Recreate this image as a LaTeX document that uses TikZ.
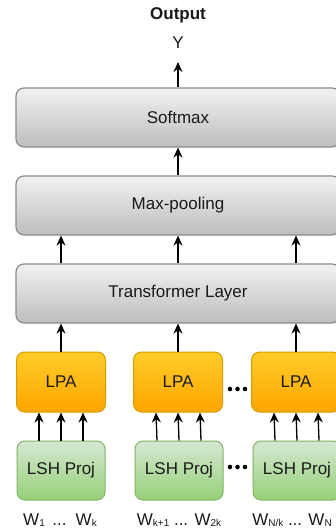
\documentclass[tikz,border=0pt]{standalone}
\usepackage{fontspec}
\setmainfont{Liberation Sans}
\usetikzlibrary{arrows.meta}
\definecolor{grtop}{HTML}{F2F2F2}
\definecolor{grbot}{HTML}{BDBDBD}
\definecolor{grline}{HTML}{8C8C8C}
\definecolor{ortop}{HTML}{FFCD28}
\definecolor{orbot}{HTML}{FFA500}
\definecolor{orline}{HTML}{D79B00}
\definecolor{gntop}{HTML}{D5E8D4}
\definecolor{gnbot}{HTML}{97D077}
\definecolor{gnline}{HTML}{82B366}
\definecolor{txt}{HTML}{1A1A1A}
\newcommand\wsub[1]{\raisebox{-0.5pt}{\fontsize{10}{10}\selectfont #1}}
\tikzset{
  lbl/.style={font=\fontsize{17}{20}\selectfont, text=txt},
  widebox/.style={lbl, draw=grline, line width=1.2pt, rounded corners=8pt, top color=grtop, bottom color=grbot, minimum width=324pt, minimum height=59pt, inner sep=0pt},
  lpabox/.style={lbl, draw=orline, line width=1pt, rounded corners=8pt, top color=ortop, bottom color=orbot, minimum width=89pt, minimum height=60pt, inner sep=0pt},
  lshbox/.style={lbl, draw=gnline, line width=1pt, rounded corners=8pt, top color=gntop, bottom color=gnbot, minimum width=88pt, minimum height=59pt, inner sep=0pt},
  arr/.style={-{Stealth[length=10pt,width=9pt]}, line width=1.3pt, black},
  dotfill/.style={fill=black}
}
\begin{document}
\begin{tikzpicture}[x=1pt,y=-1pt]
\useasboundingbox (0,0) rectangle (336,531);
\clip (0,0) rectangle (336,531);
\node[lbl, font=\fontsize{17}{20}\selectfont\bfseries] (out) at (178,15) {Output};
\node[lbl] (y) at (178,43) {Y};
\coordinate (ytip) at (178,62);
\node[widebox] (soft) at (178,117.5) {Softmax};
\node[widebox] (maxp) at (178,205.5) {Max-pooling};
\node[widebox] (trans) at (178,293.5) {Transformer Layer};
\node[lpabox] (lpa1) at (61,382) {LPA};
\node[lpabox] (lpa2) at (178,382) {LPA};
\node[lpabox] (lpa3) at (296,382) {LPA};
\node[lshbox] (lsh1) at (61,470.5) {LSH Proj};
\node[lshbox] (lsh2) at (179,470.5) {LSH Proj};
\node[lshbox] (lsh3) at (297,470.5) {LSH Proj};
\node[lbl] (w1) at (60,520) {W\wsub{1} \,... \,W\wsub{k}};
\node[lbl] (w2) at (179,520) {W\wsub{k+1} ... W\wsub{2k}};
\node[lbl] (w3) at (292,520) {W\wsub{N/k} ... W\wsub{N}};
% arrows
\draw[arr] (soft.north) -- (ytip);
\draw[arr] (maxp.north) -- (soft.south);
\foreach \i in {1,2,3} {
  \draw[arr] (trans.north -| lpa\i.north) -- (maxp.south -| lpa\i.north);
  \draw[arr] (lpa\i.north) -- (trans.south -| lpa\i.north);
  \foreach \d in {-22,0,22} {
    \draw[arr] ([xshift=\d pt]lsh\i.north) -- ([xshift=\d pt]lpa\i.south);
  }
}
% dots
\foreach \yy in {389,467} {
  \foreach \xx in {230,237.5,245} {
    \fill[dotfill] (\xx,\yy) circle (2.3pt);
  }
}
\end{tikzpicture}
\end{document}
